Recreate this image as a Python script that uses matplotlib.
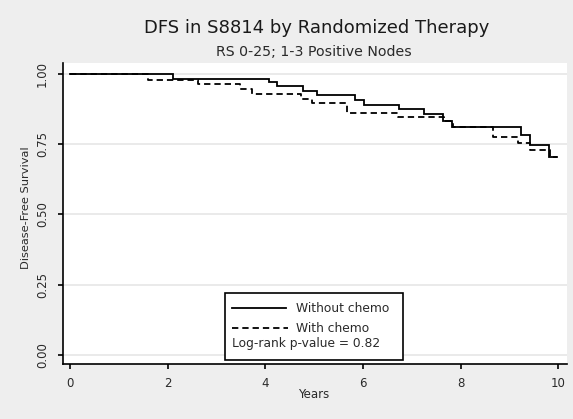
import matplotlib
matplotlib.use("Agg")
import matplotlib.pyplot as plt
from matplotlib.lines import Line2D
from matplotlib.patches import Rectangle

# ---- data ----
solid_t = [0, 2.12, 4.08, 4.24, 4.78, 5.06, 5.84, 6.02, 6.74, 7.26, 7.65, 7.83, 9.23, 9.42, 9.81, 9.98]
solid_s = [1.0, 0.982, 0.970, 0.958, 0.940, 0.925, 0.908, 0.890, 0.874, 0.856, 0.833, 0.812, 0.783, 0.749, 0.703, 0.703]
dashed_t = [0, 1.6, 2.62, 3.48, 3.72, 4.73, 4.95, 5.67, 6.72, 7.66, 7.85, 8.67, 9.18, 9.43, 9.84, 9.98]
dashed_s = [1.0, 0.978, 0.963, 0.946, 0.929, 0.912, 0.895, 0.860, 0.848, 0.832, 0.812, 0.777, 0.753, 0.728, 0.703, 0.703]
x_ticks = [0, 2, 4, 6, 8, 10]
y_ticks = [0.0, 0.25, 0.5, 0.75, 1.0]
y_ticklabels = ["0.00", "0.25", "0.50", "0.75", "1.00"]
series_labels = ["Without chemo", "With chemo"]
pvalue_text = "Log-rank p-value = 0.82"
title = "DFS in S8814 by Randomized Therapy"
subtitle = "RS 0-25; 1-3 Positive Nodes"
xlabel = "Years"
ylabel = "Disease-Free Survival"

W, H = 573, 419
plt.rcParams['font.family'] = ['DejaVu Sans']
fig = plt.figure(figsize=(W / 100, H / 100), dpi=100)
fig.patch.set_facecolor('#eeeeee')

def fx(px):
    return px / W

def fy(py):
    return 1 - py / H

left, right, top, bottom = 63, 567, 63, 364
ax = fig.add_axes([fx(left), fy(bottom), fx(right - left), (bottom - top) / H])
ax.set_facecolor('white')

lw = 1.3
dash = (0, (3.5, 2.2))
ax.step(solid_t, solid_s, where='post', color='black', lw=lw, solid_joinstyle='miter')
ax.step(dashed_t, dashed_s, where='post', color='black', lw=lw, linestyle=dash)

ax.set_xlim(-0.143, 10.18)
ax.set_ylim(-0.032, 1.039)
ax.set_xticks(x_ticks)
ax.set_xticklabels([str(v) for v in x_ticks])
ax.set_yticks(y_ticks)
ax.set_yticklabels(y_ticklabels, rotation=90, va='center')

for v in y_ticks:
    ax.axhline(v, color='#e4e4e4', lw=1.1, zorder=0)

for s in ['top', 'right']:
    ax.spines[s].set_visible(False)
for s in ['left', 'bottom']:
    ax.spines[s].set_linewidth(1.2)
    ax.spines[s].set_color('black')

tc = '#2a2a2a'
ax.tick_params(axis='both', direction='out', length=3.6, width=1.2, colors='black',
               labelsize=8.5, labelcolor=tc)
ax.tick_params(axis='x', pad=5.5)
ax.tick_params(axis='y', pad=6.5)

# titles and axis labels
fig.text(fx(316.5), fy(33.3), title, ha='center', va='baseline', fontsize=13, color='#1a1a1a')
fig.text(fx(313.5), fy(56), subtitle, ha='center', va='baseline', fontsize=10.2, color=tc)
fig.text(fx(314), fy(394), xlabel, ha='center', va='center', fontsize=8.5, color=tc)
fig.text(fx(26), fy(208), ylabel, ha='center', va='center', rotation=90, fontsize=8.2, color=tc)

# legend box
bx0, bx1, by0, by1 = 225, 403, 293, 360
fig.patches.append(Rectangle((fx(bx0), fy(by1)), fx(bx1 - bx0), (by1 - by0) / H,
                             transform=fig.transFigure, facecolor='white',
                             edgecolor='black', lw=1.2, zorder=5))
fig.lines.append(Line2D([fx(232), fx(286)], [fy(307.5), fy(307.5)], transform=fig.transFigure,
                        color='black', lw=lw, zorder=6))
fig.lines.append(Line2D([fx(232), fx(288)], [fy(327.5), fy(327.5)], transform=fig.transFigure,
                        color='black', lw=lw, linestyle=dash, zorder=6))
fig.text(fx(296), fy(312), series_labels[0], ha='left', va='baseline', fontsize=8.8, color=tc, zorder=7)
fig.text(fx(296), fy(332), series_labels[1], ha='left', va='baseline', fontsize=8.8, color=tc, zorder=7)
fig.text(fx(232), fy(346.5), pvalue_text, ha='left', va='baseline', fontsize=8.8, color=tc, zorder=7)

fig.savefig('out.png', dpi=100, facecolor=fig.get_facecolor())
